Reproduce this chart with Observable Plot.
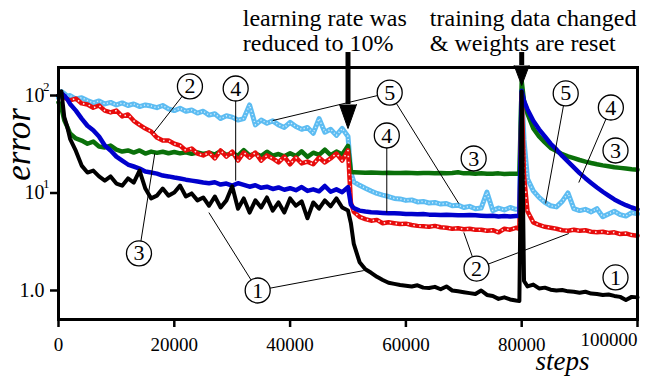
<!DOCTYPE html>
<html><head><meta charset="utf-8">
<script src="https://cdn.jsdelivr.net/npm/d3@7"></script>
<script src="https://cdn.jsdelivr.net/npm/@observablehq/plot@0.6"></script>
<style>body{margin:0;background:#fff}</style>
</head><body><div id="chart"></div>
<script>
const steps = [0,500,1000,1500,
  2000,3000,4000,5000,6000,7000,8000,9000,10000,
  11000,12000,13000,14000,15000,16000,17000,18000,19000,20000,
  21000,22000,23000,24000,25000,26000,27000,28000,29000,30000,
  31000,32000,33000,34000,35000,36000,37000,38000,39000,40000,
  41000,42000,43000,44000,45000,46000,47000,48000,49000,50000,
  50500,
  51000,52000,53000,54000,55000,56000,57000,58000,59000,60000,
  61000,62000,63000,64000,65000,66000,67000,68000,69000,70000,
  71000,72000,73000,74000,75000,76000,77000,78000,79000,
  79600,80000,80400,
  81000,82000,83000,84000,85000,86000,87000,88000,89000,90000,
  91000,92000,93000,94000,95000,96000,97000,98000,99000,100000];

// series 1 (black)
const err1 = [100,110,60,48,
  36,27,19.1,16.2,17,14.8,13.4,14.8,12.5,
  11.9,14.1,12.8,17,11.1,8.8,9.4,11.1,9.4,10.1,
  11.9,9.2,9.9,8.4,9.0,7.4,9.2,7.1,8.4,11.7,
  6.9,8.8,6.3,8.4,7.1,9.0,6.6,8.0,6.3,8.8,
  7.4,8.2,5.5,8.0,6.9,8.4,7.3,8.8,7.1,6.6,
  4.9,
  3.0,1.95,1.65,1.52,1.38,1.28,1.2,1.17,1.14,1.12,
  1.1,1.13,1.07,1.06,1.09,1.03,1.1,1.0,0.98,0.96,
  0.94,0.92,1.0,0.9,0.88,0.82,0.85,0.81,0.79,
  0.78,110,1.25,
  1.1,1.15,1.05,1.07,1.02,1.0,1.01,0.98,0.97,0.95,
  0.97,0.93,0.92,0.9,0.91,0.88,0.86,0.8,0.86,0.85];
// series 2 (red)
const err2 = [100,105,95,92,
  89,93,83,81,75,79,70,67,70,
  61,64,55,50,45.8,42.7,37,34.5,34.5,32,
  30.7,27.3,28.6,25.4,24.3,26,22.6,27.3,23.6,26.6,
  21.5,26,23.1,26,21.5,24.3,22.6,20.6,23.6,19.7,
  23.1,20.1,21,19.7,23.1,20.6,22.6,25.4,21.5,27.3,
  8,
  6.4,5.7,5.4,5.2,5.3,4.9,5.0,4.9,4.8,4.85,
  4.7,4.6,4.55,4.5,4.6,4.45,4.4,4.3,4.35,4.25,
  4.3,4.2,4.2,4.1,4.15,3.95,4.3,4.2,4.4,
  4.3,105,15,
  6.5,5.0,4.7,4.5,4.4,4.3,4.15,4.1,4.2,4.1,
  4.15,4.0,3.95,4.0,3.9,3.95,3.8,3.85,3.7,3.65];
// series 3 (green)
const err3 = [85,75,55.6,48,
  40.7,36.3,34.5,32,33.7,30,29.3,30.7,27.9,
  26.6,27.3,26,27.3,25.4,26.6,25.8,26.5,25.6,26.3,
  25.5,26.2,25.2,26,25.1,25.9,24.8,26.8,24.6,25.5,
  24.2,27.5,24.3,25.3,23.9,26.5,24.2,25.1,23.8,25.6,
  24,26.8,23.5,25.9,24.6,27.8,24.5,26.6,24.8,30.5,
  16.6,
  16.3,16.2,16.1,16.2,16.1,16.0,16.1,16.0,16.0,16.1,
  16.0,15.9,16.0,16.0,15.9,16.0,15.9,16.0,16.3,15.9,
  15.9,15.8,15.9,15.8,15.8,15.9,15.7,15.8,15.8,
  15.8,140,88,
  65,46,38,33,29,27,25,23.8,22.8,21.8,
  21,20.3,19.7,19.2,18.8,18.4,18.1,17.8,17.5,17.3];
// series 4 (blue)
const err4 = [100,105,100,92,
  82,70,58,49,44,38,30.7,27.3,23.6,
  21.5,19.6,18.7,17.8,16.6,16.2,15.8,15.1,14.8,14.4,
  14.1,13.7,13.4,13.1,12.8,12.6,12.9,12.2,12.5,11.9,
  12.6,12.1,11.6,12.0,11.3,11.6,11.0,11.4,10.8,11.2,
  10.7,11.5,10.5,10.9,10.4,11.8,10.3,10.9,10.2,11.5,
  7.6,
  7.0,6.6,6.45,6.35,6.3,6.25,6.2,6.2,6.15,6.1,
  6.1,6.05,6.1,6.0,6.0,5.95,6.0,5.95,5.9,5.9,
  5.95,5.9,5.85,5.8,5.85,5.75,5.8,5.75,5.8,
  5.8,112,88,
  72,55,45,38,32,28,24,21,18.3,16,
  14.2,12.7,11.4,10.3,9.4,8.6,8.0,7.5,7.1,6.8];
// series 5 (light blue)
const err5 = [95,110,105,98,
  100,92,95,89,84,88,82,85,80,
  84,79,82,77,80,78,75,79,73,70,
  74,69,71,66,69,63,65,58,62,60,
  56,58,80,50,56,52,55,50,47,53,
  48,45,47,41,58,42,45,39,46,38,
  16,
  13,12,11.2,10.5,9.9,9.5,9.2,8.8,8.7,8.4,
  8.5,8.1,8.2,7.9,8.0,7.7,7.8,7.4,7.5,7.1,
  7.3,6.9,7.0,10.2,6.6,7.0,6.7,7.1,6.8,
  6.9,113,35,
  14,10.5,9.0,8.0,7.4,7.2,8.2,10,6.9,6.6,
  6.8,6.4,6.9,5.7,6.1,6.5,6.0,5.8,6.3,6.1];

const seriesIds = ["1","2","3","4","5"];
const seriesColors = {"1":"#000000","2":"#e80c0c","3":"#0a700a","4":"#0000cc","5":"#5cbcf2"};
const xTicks = [0,20000,40000,60000,80000,100000];
const yTicks = [1,10,100];
const yTickBase = ["1.0","10","10"];
const yTickExp = ["","1","2"];

// circled labels
const circleText = ["2","4","3","1","5","4","3","2","5","4","3","1"];
const circleStep = [22700,30600,13900,34400,57200,56700,71700,72200,87600,95400,96200,96200];
const circleErr  = [124,118,2.40,1.0,107,38.9,22.6,1.68,105,75.3,27.3,1.36];
// leader lines: from circle index to point on a curve
const leaderFrom = [0,2,1,3,3,4,4,5,7,7,8,9];
const leaderStep = [16460,16630,30600,25970,52720,37010,69130,56700,70000,88130,84130,89860];
const leaderErr  = [41.7,25.4,13.4,6.3,1.60,55.4,7.8,6.3,3.94,3.84,7.8,12.8];

// annotations
const noteText = ["learning rate was","reduced to 10%","training data changed","& weights are reset"];
const noteStep = [31830,31830,64130,64130];
const noteErr  = [626,347,626,347];
const arrowStep = [50000,80000];
const arrowTop  = [276,276];
const arrowBase = [80.9,203];

const allErr = {"1":err1,"2":err2,"3":err3,"4":err4,"5":err5};
const table = seriesIds.flatMap(s => steps.map((st,i) => ({series:s, step:st, error:allErr[s][i]})));
const circles = circleText.map((t,i) => ({label:t, step:circleStep[i], error:circleErr[i]}));
const leaders = leaderFrom.map((f,i) => ({s1:circleStep[f], e1:circleErr[f], s2:leaderStep[i], e2:leaderErr[i]}));
const notes = noteText.map((t,i) => ({text:t, step:noteStep[i], error:noteErr[i]}));
const arrows = arrowStep.map((s,i) => ({step:s, top:arrowTop[i], base:arrowBase[i]}));
const yLabels = yTicks.map((t,i) => ({v:t, base:yTickBase[i], exp:yTickExp[i]}));

const FF = "'Liberation Serif', 'Times New Roman', Times, 'DejaVu Serif', 'Noto Serif', serif";
const lineFor = (s, w) => Plot.line(table.filter(d => d.series === s), {x:"step", y:"error", stroke: seriesColors[s], strokeWidth: w});
const dotsFor = (s, w, dash, op) => Plot.line(table.filter(d => d.series === s), {x:"step", y:"error", stroke:"white", strokeWidth:w, strokeDasharray:dash, strokeOpacity:op, strokeLinecap:"butt"});

const chart = Plot.plot({
  width: 655, height: 376,
  marginLeft: 58, marginRight: 18, marginTop: 67, marginBottom: 57,
  style: `font-family: ${FF}; background: white;`,
  x: {domain: [0, 100000]},
  y: {type: "log", domain: [0.504, 193.8]},
  marks: [
    lineFor("5", 5),
    dotsFor("5", 1.5, "1.2,2.4", 0.7),
    lineFor("3", 4.5),
    lineFor("2", 4.5),
    dotsFor("2", 1.6, "1.5,4.5", 0.9),
    lineFor("4", 4.5),
    lineFor("1", 4),
    Plot.frame({stroke: "black", strokeWidth: 3}),
    Plot.axisX({ticks: xTicks, tickFormat: () => "", tickSize: 8, strokeWidth: 2.5, label: null}),
    Plot.text(xTicks.slice(0, -1), {x: d => d, text: d => String(d), frameAnchor: "bottom", lineAnchor: "top", textAnchor: "middle", dy: 18, fontSize: 19, fontFamily: FF}),
    Plot.text(xTicks.slice(-1), {x: d => d, text: d => String(d), frameAnchor: "bottom", lineAnchor: "top", dy: 13, textAnchor: "end", fontSize: 19, fontFamily: FF}),
    Plot.axisY({ticks: yTicks, tickFormat: () => "", tickSize: 8, strokeWidth: 2.5, label: null}),
    Plot.text(yLabels, {y: "v", text: "base", frameAnchor: "left", textAnchor: "end", lineAnchor: "middle", fontSize: 20, fontFamily: FF, dx: -14}),
    Plot.text(yLabels.filter(d => d.exp), {y: "v", text: "exp", frameAnchor: "left", textAnchor: "end", lineAnchor: "middle", dx: -9, dy: -9, fontSize: 13, fontFamily: FF}),
    Plot.text(["error"], {text: d => d, frameAnchor: "left", textAnchor: "middle", lineAnchor: "middle", dx: -40, dy: -49, rotate: -90, fontSize: 35, fontStyle: "italic", fontFamily: FF}),
    Plot.text(["steps"], {text: d => d, frameAnchor: "bottom-right", textAnchor: "middle", lineAnchor: "middle", dx: -75, dy: 42, fontSize: 27, fontStyle: "italic", fontFamily: FF}),
    Plot.link(leaders, {x1:"s1", y1:"e1", x2:"s2", y2:"e2", stroke:"black", strokeWidth:1}),
    Plot.dot(circles, {x:"step", y:"error", r:12.5, fill:"white", stroke:"black", strokeWidth:1.3}),
    Plot.text(circles, {x:"step", y:"error", text:"label", fontSize:22, fontFamily: FF}),
    Plot.ruleX(arrows, {x:"step", y1:"top", y2:"base", stroke:"black", strokeWidth:5}),
    Plot.vector(arrows.slice(0,1), {x:"step", y:"base", rotate:180, length:24, r:8.5, shape:"spike", anchor:"start", fill:"black", stroke:"black", strokeWidth:1}),
    Plot.vector(arrows.slice(1,2), {x:"step", y:"base", rotate:180, length:20, r:7.5, shape:"spike", anchor:"start", fill:"black", stroke:"black", strokeWidth:1}),
    Plot.text(notes, {x:"step", y:"error", text:"text", textAnchor:"start", fontSize:24, fontFamily: FF})
  ]
});
document.getElementById("chart").appendChild(chart);
</script>
</body></html>
